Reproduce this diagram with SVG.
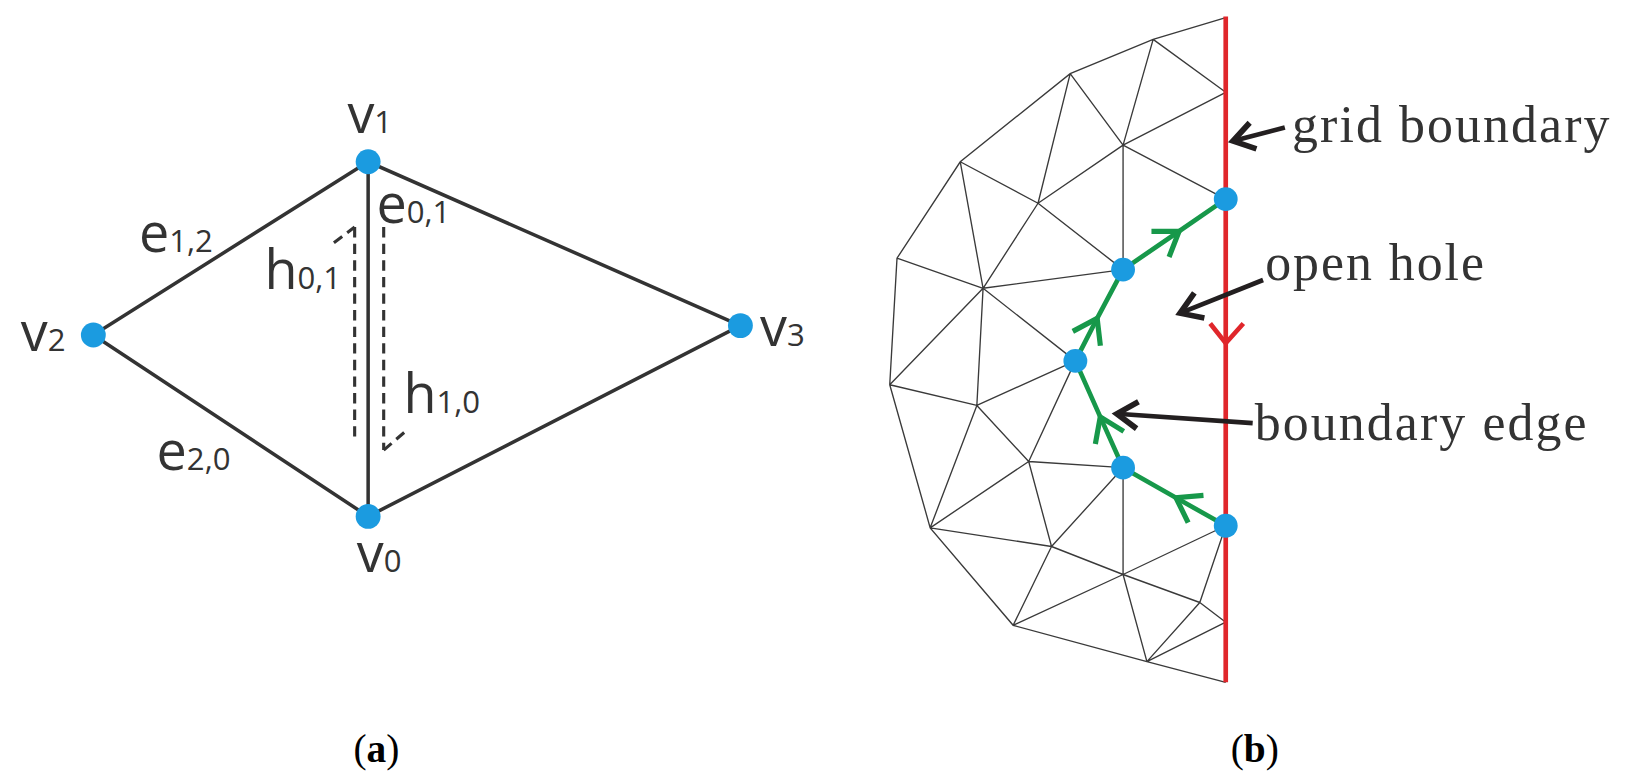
<svg xmlns="http://www.w3.org/2000/svg" width="1626" height="782" viewBox="0 0 1626 782">
<defs>
<style>
.e{stroke:#333;stroke-width:3.4;fill:none}
.d{stroke:#333;stroke-width:3;stroke-dasharray:10 6;fill:none}
.m{stroke:#3a3a3a;stroke-width:1.3;fill:none}
.g{stroke:#17984a;stroke-width:4.5;fill:none}
.dot{fill:#1b9be0}
.lb{font-family:"Open Sans","DejaVu Sans",sans-serif;font-size:52px;fill:#333}
.lb tspan{font-size:30px}
.ann{font-family:"Liberation Serif",serif;font-size:50px;fill:#333}
.cap{font-family:"Liberation Serif",serif;font-size:38px;fill:#000}
.ar{stroke:#231f20;stroke-width:4.5;fill:none}
</style>
<marker id="chev" markerUnits="userSpaceOnUse" markerWidth="60" markerHeight="60" viewBox="-30 -30 60 60" refX="0" refY="0" orient="auto">
<path d="M-22,-15 L0,0 L-22,15" stroke="#17984a" stroke-width="5" fill="none"/>
</marker>
<marker id="blk" markerUnits="userSpaceOnUse" markerWidth="50" markerHeight="50" viewBox="-25 -25 50 50" refX="0" refY="0" orient="auto">
<path d="M-20,-13 L0,0 L-20,13" stroke="#231f20" stroke-width="5.5" fill="none"/>
</marker>
</defs>
<g transform="scale(1.037)">
<g id="connectors-a">
<path class="e" d="M355,156 L90,323 L355,498 L714,314 Z"/>
<path class="e" d="M355,156 L355,498" stroke-width="2.4"/>
<path class="d" d="M342,219 L342,422 M370,219 L370,434"/>
<path class="d" d="M322,234 L342,219 M370,434 L391,416" stroke-dasharray="5 5"/>
</g>
<g id="v1"><circle class="dot" cx="355" cy="156" r="12"/><text class="lb" x="335" y="128">v<tspan>1</tspan></text></g>
<g id="v2"><circle class="dot" cx="90" cy="323" r="12"/><text class="lb" x="20" y="338">v<tspan>2</tspan></text></g>
<g id="v3"><circle class="dot" cx="714" cy="314" r="12"/><text class="lb" x="733" y="334">v<tspan>3</tspan></text></g>
<g id="v0"><circle class="dot" cx="355" cy="498" r="12"/><text class="lb" x="344" y="552">v<tspan>0</tspan></text></g>
<g id="edge-labels">
<text class="lb" x="134" y="243">e<tspan>1,2</tspan></text>
<text class="lb" x="255" y="279">h<tspan>0,1</tspan></text>
<text class="lb" x="363" y="215">e<tspan>0,1</tspan></text>
<text class="lb" x="389" y="398">h<tspan>1,0</tspan></text>
<text class="lb" x="151" y="453">e<tspan>2,0</tspan></text>
</g>
<g id="mesh">
<path class="m" d="M1182,17 L1112,38 L1032,71 L926,156 L865,249 L858,371 L897,509 L977,603 L1106,638 L1182,658
M1112,38 L1083,140 M1032,71 L1083,140 M1032,71 L1001,196 M926,156 L1001,196 M926,156 L948,278 M865,249 L948,278
M865,249 L858,371 M948,278 L858,371 M948,278 L942,391 M948,278 L1001,196 M1001,196 L1083,140 M1001,196 L1083,260
M948,278 L1083,260 M948,278 L1037,348 M1083,140 L1083,260 M1083,140 L1182,192 M1083,140 L1182,89 M1112,38 L1182,89
M858,371 L942,391 M942,391 L1037,348 M942,391 L992,445 M992,445 L1037,348 M858,371 L897,509 M942,391 L897,509
M992,445 L897,509 M992,445 L1083,451 M992,445 L1014,527 M897,509 L1014,527 M1014,527 L1083,451 M1014,527 L1083,554
M1083,554 L1083,451 M897,509 L977,603 M1014,527 L977,603 M977,603 L1083,554 M1083,554 L1106,638 M1083,554 L1182,507
M1083,554 L1157,581 M1182,507 L1157,581 M1157,581 L1106,638 M1157,581 L1182,600 M1106,638 L1182,600"/>
</g>
<g id="grid-boundary">
<path d="M1182,16 L1182,658" stroke="#e0262b" stroke-width="4.5" fill="none"/>
<path d="M1167,312 L1182,331 L1199,312" stroke="#e0262b" stroke-width="4.5" fill="none"/>
</g>
<g id="boundary-edges">
<path class="g" marker-mid="url(#chev)" d="M1182,507 L1134,480 L1083,451"/>
<path class="g" marker-mid="url(#chev)" d="M1083,451 L1061,402 L1037,348"/>
<path class="g" marker-mid="url(#chev)" d="M1037,348 L1058,307 L1083,260"/>
<path class="g" marker-mid="url(#chev)" d="M1083,260 L1137,223 L1182,192"/>
</g>
<g id="boundary-dots">
<circle class="dot" cx="1182" cy="192" r="11.5"/>
<circle class="dot" cx="1083" cy="260" r="11.5"/>
<circle class="dot" cx="1037" cy="348" r="11.5"/>
<circle class="dot" cx="1083" cy="451" r="11.5"/>
<circle class="dot" cx="1182" cy="507" r="11.5"/>
</g>
<g id="annotations">
<path class="ar" marker-end="url(#blk)" d="M1239,123 L1189,136"/>
<text class="ann" x="1246" y="137" textLength="306" lengthAdjust="spacing">grid boundary</text>
<path class="ar" marker-end="url(#blk)" d="M1218,270 L1138,302"/>
<text class="ann" x="1220" y="270" textLength="211" lengthAdjust="spacing">open hole</text>
<path class="ar" marker-end="url(#blk)" d="M1208,408 L1077,399"/>
<text class="ann" x="1210" y="424" textLength="320" lengthAdjust="spacing">boundary edge</text>
</g>
<g id="captions">
<text class="cap" x="363" y="735" text-anchor="middle">(<tspan font-weight="bold">a</tspan>)</text>
<text class="cap" x="1210" y="735" text-anchor="middle">(<tspan font-weight="bold">b</tspan>)</text>
</g>
</g>
</svg>
